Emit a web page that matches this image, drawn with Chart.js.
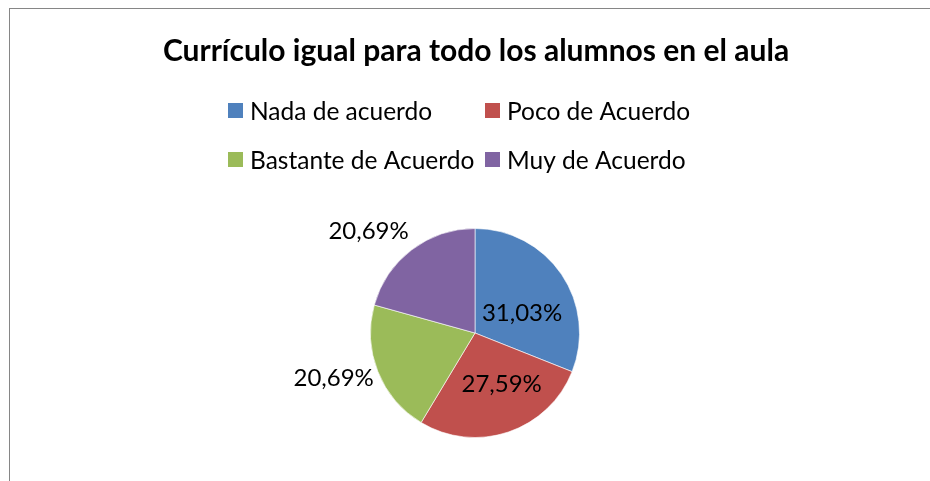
<!DOCTYPE html>
<html>
<head>
<meta charset="utf-8">
<script src="https://cdn.jsdelivr.net/npm/chart.js@4"></script>
<style>
    body { margin: 0; background: #fff; overflow: hidden; }
    #frame { position: absolute; left: 9px; top: 8px; width: 940px; height: 500px; border: 1px solid #868686; }
    #wrap { position: absolute; left: 0; top: 0; width: 930px; height: 481px; }
</style>
</head>
<body>
<div id="frame"></div>
<div id="wrap"><canvas id="pie"></canvas></div>
<script>
// datos del gráfico
const title = 'Currículo igual para todo los alumnos en el aula';
const categories = ['Nada de acuerdo', 'Poco de Acuerdo', 'Bastante de Acuerdo', 'Muy de Acuerdo'];
const values = [31.03, 27.59, 20.69, 20.69];
const percentLabels = ['31,03%', '27,59%', '20,69%', '20,69%'];
const colors = ['#4F81BD', '#C0504D', '#9BBB59', '#8064A2'];

const FONT = 'Lato, "Open Sans", sans-serif';

// etiquetas: factor de radio y ajuste de ángulo (grados) para cada porción
const labelRadius = [0.49, 0.55, 1.42, 1.41];
const labelNudge = [11, -9, 4, -9];

// título y leyenda dibujados a mano (leyenda en dos columnas como Excel)
const headerPlugin = {
    id: 'header',
    afterDraw(chart) {
        const ctx = chart.ctx;
        ctx.save();
        ctx.fillStyle = '#000';
        ctx.textBaseline = 'middle';
        ctx.textAlign = 'center';
        ctx.font = 'bold 30px ' + FONT;
        ctx.fillText(title, 476, 51);

        ctx.font = '24.5px ' + FONT;
        ctx.textAlign = 'left';
        const colX = [228, 485];
        const rowY = [111, 160];
        categories.forEach((c, i) => {
            const x = colX[i % 2];
            const y = rowY[Math.floor(i / 2)];
            ctx.fillStyle = colors[i];
            ctx.fillRect(x, y - 8, 15, 15);
            ctx.fillStyle = '#000';
            ctx.fillText(c, x + 22, y + 1);
        });
        ctx.restore();
    }
};

// porcentajes sobre / junto a cada porción
const pctPlugin = {
    id: 'pct',
    afterDatasetsDraw(chart) {
        const ctx = chart.ctx;
        const meta = chart.getDatasetMeta(0);
        ctx.save();
        ctx.fillStyle = '#000';
        ctx.font = '24px ' + FONT;
        ctx.textAlign = 'center';
        ctx.textBaseline = 'middle';
        meta.data.forEach((arc, i) => {
            const p = arc.getProps(['x', 'y', 'startAngle', 'endAngle', 'outerRadius'], true);
            const a = (p.startAngle + p.endAngle) / 2 + labelNudge[i] * Math.PI / 180;
            const r = p.outerRadius * labelRadius[i];
            ctx.fillText(percentLabels[i], p.x + Math.cos(a) * r, p.y + Math.sin(a) * r);
        });
        ctx.restore();
    }
};

const ctx = document.getElementById('pie').getContext('2d');
new Chart(ctx, {
    type: 'pie',
    data: {
        labels: categories,
        datasets: [{
            data: values,
            backgroundColor: colors,
            borderColor: 'rgba(255,255,255,0.6)',
            borderWidth: 1
        }]
    },
    options: {
        responsive: true,
        maintainAspectRatio: false,
        animation: false,
        layout: { padding: { left: 370, right: 350, top: 228, bottom: 43 } },
        plugins: {
            legend: { display: false },
            title: { display: false },
            tooltip: { enabled: false }
        }
    },
    plugins: [headerPlugin, pctPlugin]
});
</script>
</body>
</html>
